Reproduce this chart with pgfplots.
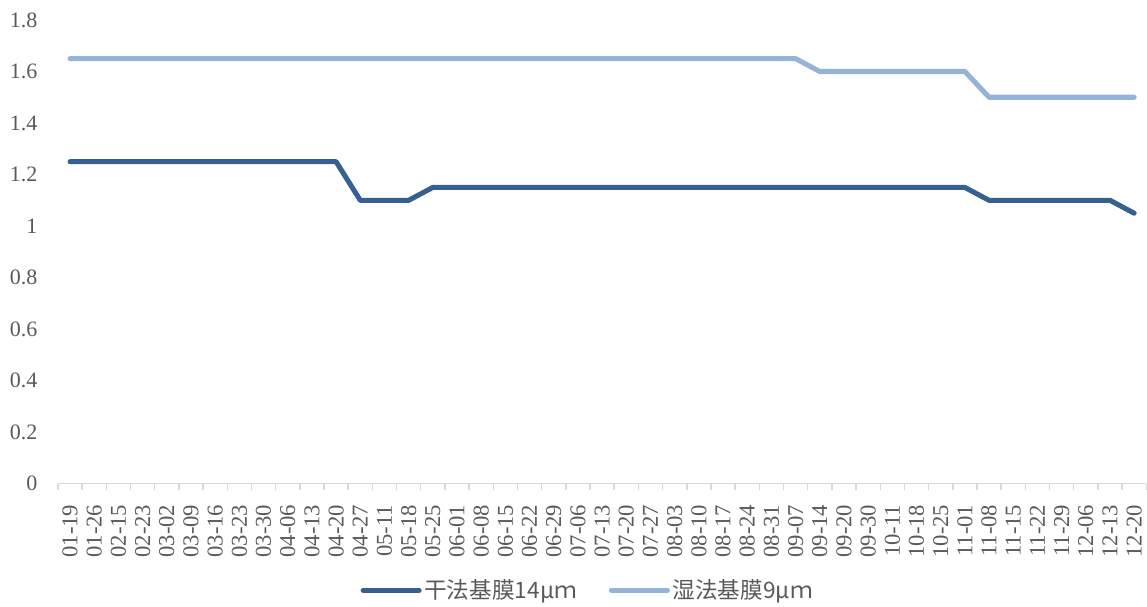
\documentclass[border=0pt]{standalone}
\usepackage{fontspec}
\setmainfont{Liberation Serif}
\newfontfamily\tnr{Liberation Serif}
\newfontfamily\cjk{Noto Sans CJK SC}
\usepackage{pgfplots}
\pgfplotsset{compat=1.18}
\definecolor{darkblue}{RGB}{55,96,146}
\definecolor{lightblue}{RGB}{149,179,215}
\definecolor{axisgray}{RGB}{217,217,217}
\definecolor{txtgray}{RGB}{89,89,89}
\begin{document}
\begin{tikzpicture}[x=1pt,y=1pt]
\path (0,0) rectangle (860.25,452.25);
\begin{axis}[
  at={(43.5pt,89.25pt)}, anchor=south west,
  scale only axis,
  width=816.75pt, height=348pt,
  xmin=-0.5, xmax=44.5, ymin=0, ymax=1.8,
  axis x line*=bottom, axis y line*=left,
  y axis line style={draw=none},
  x axis line style={draw=axisgray, line width=1.1pt},
  ytick={0,0.2,0.4,0.6,0.8,1,1.2,1.4,1.6,1.8},
  ytick style={draw=none},
  xtick={0,...,44},
  major x tick style={draw=none},
  minor xtick={-0.5,0.5,...,44.5},
  minor x tick style={draw=axisgray, line width=1.1pt},
  minor tick length=4.5pt,
  xtick align=outside,
  xticklabels={01-19,01-26,02-15,02-23,03-02,03-09,03-16,03-23,03-30,04-06,04-13,04-20,04-27,05-11,05-18,05-25,06-01,06-08,06-15,06-22,06-29,07-06,07-13,07-20,07-27,08-03,08-10,08-17,08-24,08-31,09-07,09-14,09-20,09-30,10-11,10-18,10-25,11-01,11-08,11-15,11-22,11-29,12-06,12-13,12-20},
  xticklabel style={rotate=90, anchor=east, font=\tnr\fontsize{17}{17}\selectfont, text=txtgray, xshift=-8pt},
  yticklabel style={font=\tnr\fontsize{16.5}{16.5}\selectfont, text=txtgray, xshift=-12pt},
  /pgf/number format/assume math mode=true,
  /pgf/number format/fixed,
  legend columns=2,
  legend style={at={(0.487,-0.23)}, anchor=center, draw=none, fill=none,
    font=\cjk\fontsize{17}{17}\selectfont, text=txtgray,
    /tikz/every even column/.append style={column sep=22pt}},
  legend image code/.code={\draw[#1, line cap=round] (0pt,0pt) -- (42pt,0pt);},
]
\addplot[darkblue, line width=3.8pt, line cap=round, line join=round] coordinates {
(0,1.25)(1,1.25)(2,1.25)(3,1.25)(4,1.25)(5,1.25)(6,1.25)(7,1.25)(8,1.25)(9,1.25)(10,1.25)(11,1.25)
(12,1.1)(13,1.1)(14,1.1)
(15,1.15)(16,1.15)(17,1.15)(18,1.15)(19,1.15)(20,1.15)(21,1.15)(22,1.15)(23,1.15)(24,1.15)(25,1.15)(26,1.15)(27,1.15)(28,1.15)(29,1.15)(30,1.15)(31,1.15)(32,1.15)(33,1.15)(34,1.15)(35,1.15)(36,1.15)(37,1.15)
(38,1.1)(39,1.1)(40,1.1)(41,1.1)(42,1.1)(43,1.1)
(44,1.05)};
\addlegendentry{干法基膜14μｍ}
\addplot[lightblue, line width=3.8pt, line cap=round, line join=round] coordinates {
(0,1.65)(1,1.65)(2,1.65)(3,1.65)(4,1.65)(5,1.65)(6,1.65)(7,1.65)(8,1.65)(9,1.65)(10,1.65)(11,1.65)(12,1.65)(13,1.65)(14,1.65)(15,1.65)(16,1.65)(17,1.65)(18,1.65)(19,1.65)(20,1.65)(21,1.65)(22,1.65)(23,1.65)(24,1.65)(25,1.65)(26,1.65)(27,1.65)(28,1.65)(29,1.65)(30,1.65)
(31,1.6)(32,1.6)(33,1.6)(34,1.6)(35,1.6)(36,1.6)(37,1.6)
(38,1.5)(39,1.5)(40,1.5)(41,1.5)(42,1.5)(43,1.5)(44,1.5)};
\addlegendentry{湿法基膜9μｍ}
\end{axis}
\end{tikzpicture}
\end{document}
